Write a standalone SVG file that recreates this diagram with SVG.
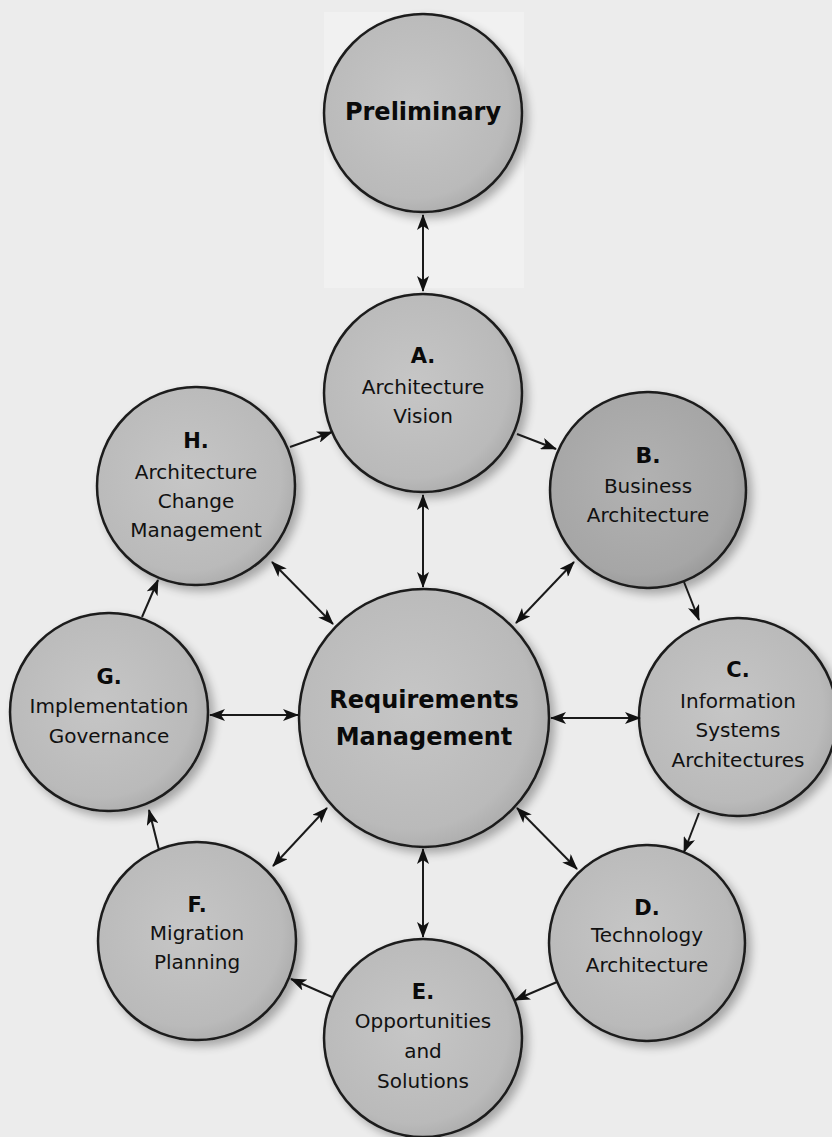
<svg xmlns="http://www.w3.org/2000/svg" width="832" height="1137" viewBox="0 0 832 1137">
<defs>
<style>
.n{stroke:#1c1c1c;stroke-width:2.5;fill:url(#g);filter:url(#sh)}
.nd{stroke:#1c1c1c;stroke-width:2.5;fill:url(#gd);filter:url(#sh)}
.t{font-family:"DejaVu Sans","Liberation Sans",sans-serif;font-size:20px;fill:#111;text-anchor:middle}
.b{font-family:"DejaVu Sans","Liberation Sans",sans-serif;font-weight:bold;fill:#0a0a0a;text-anchor:middle}
.c line{stroke:#1a1a1a;stroke-width:2}
</style>
<radialGradient id="g" cx="0.45" cy="0.45" r="0.6">
<stop offset="0" stop-color="#c6c6c6"/>
<stop offset="0.8" stop-color="#bababa"/>
<stop offset="1" stop-color="#a9a9a9"/>
</radialGradient>
<radialGradient id="gd" cx="0.45" cy="0.45" r="0.6">
<stop offset="0" stop-color="#b2b2b2"/>
<stop offset="0.8" stop-color="#a6a6a6"/>
<stop offset="1" stop-color="#969696"/>
</radialGradient>
<filter id="sh" x="-20%" y="-20%" width="150%" height="150%">
<feGaussianBlur in="SourceAlpha" stdDeviation="5"/>
<feOffset dx="5" dy="5" result="o"/>
<feComponentTransfer><feFuncA type="linear" slope="0.3"/></feComponentTransfer>
<feMerge><feMergeNode/><feMergeNode in="SourceGraphic"/></feMerge>
</filter>
<marker id="ah" viewBox="0 0 16 12" refX="15" refY="6" markerWidth="16" markerHeight="12" markerUnits="userSpaceOnUse" orient="auto-start-reverse">
<path d="M0,0 L16,6 L0,12 L4,6 z" fill="#111"/>
</marker>
</defs>
<rect width="832" height="1137" fill="#ececec"/>
<rect x="324" y="12" width="200" height="276" fill="#f1f1f1"/>

<g id="preliminary"><circle class="n" cx="423" cy="113" r="99"/><text class="b" x="423" y="120" font-size="24">Preliminary</text></g>
<g id="phase-a"><circle class="n" cx="423" cy="393" r="99"/><text class="b" x="423" y="363" font-size="21">A.</text><text class="t" x="423" y="394">Architecture</text><text class="t" x="423" y="423">Vision</text></g>
<g id="phase-h"><circle class="n" cx="196" cy="486" r="99"/><text class="b" x="196" y="448" font-size="21">H.</text><text class="t" x="196" y="479">Architecture</text><text class="t" x="196" y="508">Change</text><text class="t" x="196" y="537">Management</text></g>
<g id="phase-b"><circle class="nd" cx="648" cy="490" r="98"/><text class="b" x="648" y="463" font-size="22">B.</text><text class="t" x="648" y="493">Business</text><text class="t" x="648" y="522">Architecture</text></g>
<g id="phase-g"><circle class="n" cx="109" cy="712" r="99"/><text class="b" x="109" y="684" font-size="21">G.</text><text class="t" x="109" y="713">Implementation</text><text class="t" x="109" y="743">Governance</text></g>
<g id="requirements"><ellipse class="n" cx="424" cy="718" rx="125" ry="129"/><text class="b" x="424" y="708" font-size="24">Requirements</text><text class="b" x="424" y="745" font-size="24">Management</text></g>
<g id="phase-c"><circle class="n" cx="738" cy="717" r="99"/><text class="b" x="738" y="677" font-size="21">C.</text><text class="t" x="738" y="708">Information</text><text class="t" x="738" y="737">Systems</text><text class="t" x="738" y="767">Architectures</text></g>
<g id="phase-f"><circle class="n" cx="197" cy="941" r="99"/><text class="b" x="197" y="912" font-size="21">F.</text><text class="t" x="197" y="940">Migration</text><text class="t" x="197" y="969">Planning</text></g>
<g id="phase-d"><circle class="n" cx="647" cy="943" r="98"/><text class="b" x="647" y="915" font-size="21">D.</text><text class="t" x="647" y="942">Technology</text><text class="t" x="647" y="972">Architecture</text></g>
<g id="phase-e"><circle class="n" cx="423" cy="1038" r="99"/><text class="b" x="423" y="999" font-size="21">E.</text><text class="t" x="423" y="1028">Opportunities</text><text class="t" x="423" y="1058">and</text><text class="t" x="423" y="1088">Solutions</text></g>

<g id="connectors" class="c">
<line x1="423" y1="215" x2="423" y2="291" marker-start="url(#ah)" marker-end="url(#ah)"/>
<line x1="423" y1="495" x2="423" y2="587" marker-start="url(#ah)" marker-end="url(#ah)"/>
<line x1="290" y1="447" x2="332" y2="432" marker-end="url(#ah)"/>
<line x1="517" y1="434" x2="556" y2="449" marker-end="url(#ah)"/>
<line x1="684" y1="582" x2="699" y2="620" marker-end="url(#ah)"/>
<line x1="699" y1="813" x2="684" y2="852" marker-end="url(#ah)"/>
<line x1="557" y1="982" x2="515" y2="1000" marker-end="url(#ah)"/>
<line x1="332" y1="997" x2="291" y2="979" marker-end="url(#ah)"/>
<line x1="159" y1="850" x2="149" y2="810" marker-end="url(#ah)"/>
<line x1="142" y1="617" x2="158" y2="580" marker-end="url(#ah)"/>
<line x1="272" y1="562" x2="333" y2="624" marker-start="url(#ah)" marker-end="url(#ah)"/>
<line x1="574" y1="562" x2="516" y2="623" marker-start="url(#ah)" marker-end="url(#ah)"/>
<line x1="210" y1="715" x2="298" y2="715" marker-start="url(#ah)" marker-end="url(#ah)"/>
<line x1="551" y1="718" x2="640" y2="718" marker-start="url(#ah)" marker-end="url(#ah)"/>
<line x1="327" y1="808" x2="273" y2="866" marker-start="url(#ah)" marker-end="url(#ah)"/>
<line x1="517" y1="808" x2="577" y2="869" marker-start="url(#ah)" marker-end="url(#ah)"/>
<line x1="423" y1="849" x2="423" y2="937" marker-start="url(#ah)" marker-end="url(#ah)"/>
</g>
</svg>
